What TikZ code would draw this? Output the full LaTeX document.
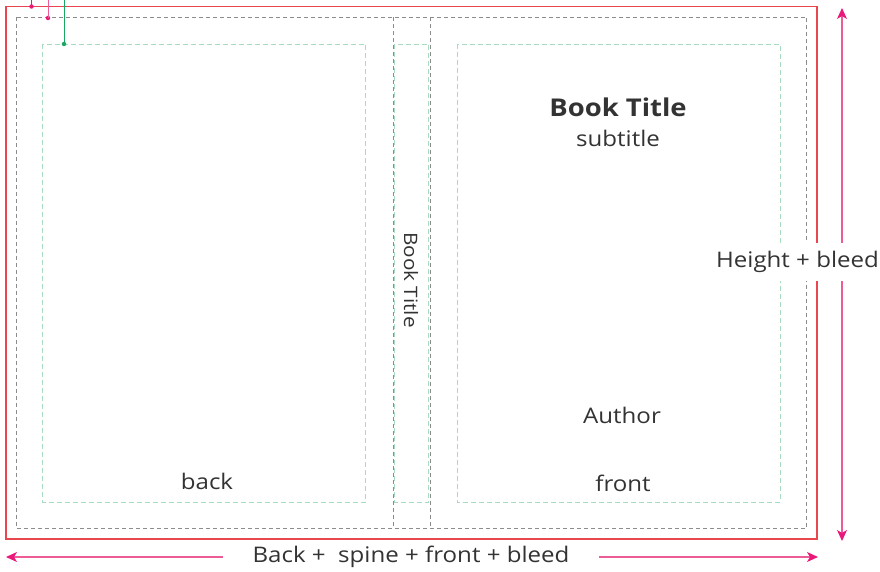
\documentclass[tikz,border=0pt]{standalone}
\usepackage{fontspec}
\setmainfont{Open Sans}[FakeStretch=1.12]
\usetikzlibrary{arrows.meta}
\definecolor{trimred}{HTML}{E8474F}
\definecolor{guidegray}{HTML}{8C8C8C}
\definecolor{safegreen}{HTML}{A8DCC0}
\definecolor{arrowpink}{HTML}{EE5C98}
\definecolor{tippink}{HTML}{E8197A}
\definecolor{markgreen}{HTML}{18A860}
\definecolor{txt}{HTML}{333333}
\tikzset{
  trim/.style={draw=trimred, line width=1.2pt},
  gdash/.style={draw=guidegray, line width=0.8pt, dash pattern=on 4pt off 3pt},
  sdash/.style={draw=safegreen, line width=0.8pt, dash pattern=on 5pt off 3pt},
  dim/.style={draw=arrowpink, line width=1.2pt, -{Stealth[length=11pt,width=10pt,inset=3pt,color=tippink]}},
  lbl/.style={text=txt, font=\fontsize{21.5}{26}\selectfont, inner sep=0pt},
  dot/.style={circle, inner sep=0pt, minimum size=4.5pt},
}
\begin{document}
\begin{tikzpicture}[x=1pt,y=-1pt]
\useasboundingbox (0,0) rectangle (880,572);
% trim (bleed) rectangle
\draw[trim] (6,6.5) rectangle (817,539);
% gray cut/fold guides
\draw[gdash] (16.5,17.5) rectangle (806.5,528);
\draw[gdash] (393,17.5) -- (393,528);
\draw[gdash] (430,17.5) -- (430,528);
% green safe areas
\draw[sdash] (42.5,44) rectangle (365,502);
\draw[sdash] (394.5,44) rectangle (428.5,502);
\draw[sdash] (457,44) rectangle (780,502);
% markers
\node[dot, fill=tippink] (m1) at (31.5,6.5) {};
\node[dot, fill=tippink] (m2) at (48,18) {};
\node[dot, fill=markgreen] (m3) at (64,44) {};
\coordinate (t1) at (31.5,0);
\coordinate (t2) at (48,0);
\coordinate (t3) at (64,0);
\draw[tippink, line width=1pt] (t1) -- (m1.center);
\draw[arrowpink, line width=1pt] (t2) -- (m2.center);
\draw[markgreen, line width=1pt] (t3) -- (m3.center);
% dimension arrows
\coordinate (vtop) at (842,8);
\coordinate (vbot) at (842,541);
\coordinate (hl) at (6,557);
\coordinate (hr) at (818,557);
\coordinate (hm) at (411,557);
\draw[dim] (hm) -- (hl);
\draw[dim] (hm) -- (hr);
\coordinate (vm) at (842,263);
\draw[dim] (vm) -- (vtop);
\draw[dim] (vm) -- (vbot);
\node[lbl, fill=white, inner xsep=30pt, inner ysep=4pt] (wl) at (411,557) {Back +\ \ spine + front + bleed};
\node[lbl, fill=white, inner ysep=8pt, inner xsep=2pt] (hb) at (797.5,262) {Height + bleed};
% texts
\node[text=txt, font=\fontsize{24.5}{29}\selectfont\bfseries, inner sep=0pt] (title) at (618,107) {Book Title};
\node[lbl] (sub) at (618,138) {subtitle};
\node[lbl] (auth) at (622,415) {Author};
\node[lbl] (front) at (623,483) {front};
\node[lbl] (back) at (207,481) {back};
\node[text=txt, font=\fontsize{18.5}{22}\selectfont, inner sep=0pt, rotate=-90] (spine) at (411,280) {Book Title};
\end{tikzpicture}
\end{document}
